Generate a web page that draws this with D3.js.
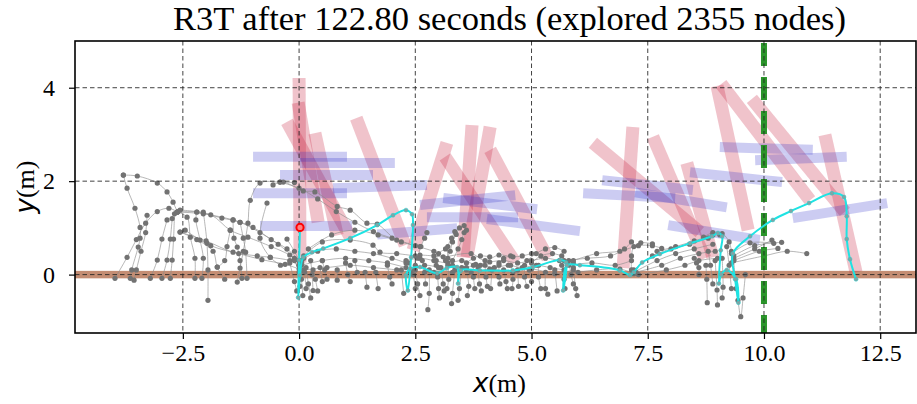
<!DOCTYPE html>
<html><head><meta charset="utf-8">
<script src="https://cdn.jsdelivr.net/npm/d3@7"></script>
<style>body{margin:0;background:#fff}</style></head>
<body>
<svg id="c" width="917" height="404"></svg>
<script>
// ---------- data ----------
const titleText = "R3T after 122.80 seconds (explored 2355 nodes)";
const xTicks = [-2.5, 0, 2.5, 5, 7.5, 10, 12.5];
const xTickLabels = ["\u22122.5", "0.0", "2.5", "5.0", "7.5", "10.0", "12.5"];
const yTicks = [0, 2, 4];
const yTickLabels = ["0", "2", "4"];
const goalX = 10;
const startPoint = [0.02, 1.01];

// leg links [x1,y1,x2,y2]
const redLinks = [
  [0.0, 4.21, 0.02, 0.26], [-0.02, 3.68, 0.41, 1.12], [-0.26, 3.27, 1.10, 0.80],
  [0.34, 3.03, 0.82, 0.84], [1.23, 3.35, 2.28, 0.63],
  [3.18, 2.82, 2.45, 0.52], [3.14, 2.52, 4.65, 0.26], [3.72, 3.20, 3.53, 0.37],
  [4.11, 3.16, 3.61, 0.37], [4.11, 2.67, 5.35, 0.35],
  [6.32, 2.82, 8.62, 0.91], [7.18, 3.16, 6.97, 0.14], [7.61, 2.95, 8.73, 0.35],
  [8.34, 2.39, 8.90, 0.37], [8.99, 4.04, 9.66, 0.95], [9.08, 4.08, 10.99, 1.59],
  [9.74, 3.76, 11.74, 1.34], [11.31, 2.99, 11.98, 0.05]
];
// body links [x1,y1,x2,y2]
const blueLinks = [
  [-0.99, 2.52, 1.03, 2.52], [0.02, 2.39, 2.06, 2.39], [-0.41, 2.13, 1.59, 2.13],
  [-0.99, 1.74, 1.03, 1.74], [0.73, 1.85, 2.75, 1.92], [-0.84, 1.04, 1.14, 1.04],
  [1.68, 0.86, 3.40, 0.99],
  [2.60, 1.49, 4.65, 1.70], [3.10, 1.64, 5.12, 1.40], [2.75, 1.23, 4.71, 1.23],
  [4.04, 1.19, 6.04, 0.93],
  [6.52, 2.02, 8.47, 1.81], [6.11, 1.74, 8.09, 1.64], [7.23, 1.76, 9.20, 1.44],
  [8.41, 2.19, 10.39, 1.98], [9.05, 2.73, 11.05, 2.67], [9.81, 2.45, 11.78, 2.52],
  [10.62, 1.21, 12.65, 1.53], [7.94, 1.06, 9.91, 0.74]
];

// explored tree branches (node positions)
const treeBranches = [
  [[-3.78,2.13],[-3.48,2.11],[-3.05,1.96],[-2.84,1.77],[-2.71,1.55],[-2.62,1.34]],
  [[-3.78,2.13],[-3.7,1.85],[-3.53,1.42],[-3.42,1.01],[-3.42,0.78],[-3.46,0.59],[-3.6,0.1],[-3.63,-0.08]],
  [[-3.96,-0.08],[-3.7,0.37],[-3.5,0.75],[-3.3,1.1],[-3.05,1.35],[-2.8,1.42],[-2.62,1.34]],
  [[-3.27,1.27],[-3.3,0.9],[-3.4,0.5],[-3.5,0.1],[-3.55,-0.12]],
  [[-2.84,1.17],[-2.95,0.76],[-3.05,0.31],[-3.2,-0.08]],
  [[-2.73,1.2],[-2.77,0.76],[-2.84,0.31],[-2.95,-0.08]],
  [[-2.68,1.3],[-2.7,0.76],[-2.73,0.31],[-2.77,-0.08]],
  [[-2.62,1.34],[-2.41,1.23],[-2.34,0.8],[-2.24,0.35],[-2.24,-0.08]],
  [[-2.2,1.34],[-2.22,1.17],[-2.13,0.74],[-2.06,0.35],[-2.09,-0.08]],
  [[-2.06,1.34],[-1.98,0.67],[-1.96,0.1],[-1.96,-0.55]],
  [[-2.56,0.91],[-2.2,0.75],[-1.85,0.5],[-1.76,0.16],[-1.6,-0.1]],
  [[-2.62,1.34],[-2.2,1.34],[-1.66,1.21],[-1.27,1.12],[-0.84,0.9],[-0.45,0.65],[-0.1,0.35],[0.02,0.2]],
  [[-2.62,1.34],[-2.06,1.3],[-1.42,1.17],[-0.99,1.01],[-0.6,0.75],[-0.26,0.55],[0.0,0.3]],
  [[-2.56,1.38],[-1.9,1.28],[-1.48,0.95],[-1.1,0.8],[-0.6,0.6],[-0.2,0.42],[0.05,0.25]],
  [[-2.56,0.91],[-2.0,0.72],[-1.42,0.48],[-0.9,0.4],[-0.62,0.37],[-0.2,0.3],[0.0,0.2]],
  [[-2.45,0.95],[-1.9,0.62],[-1.3,0.45],[-0.8,0.32],[-0.3,0.22],[0.0,0.12]],
  [[-1.33,-0.16],[-1.27,0.14],[-1.2,0.5],[-1.1,1.1],[-1.05,1.59],[-0.84,1.96],[-0.41,1.98],[-0.1,1.97]],
  [[-1.42,1.17],[-1.4,0.78],[-1.33,0.59],[-1.27,0.3],[-1.23,-0.08]],
  [[-1.27,1.12],[-1.2,0.78],[-1.15,0.48],[-1.12,-0.08]],
  [[-0.69,1.53],[-0.84,0.78],[-0.62,0.37],[-0.4,0.2]],
  [[-1.48,0.95],[-1.55,0.6],[-1.6,0.3],[-1.76,0.16]],
  [[-0.26,0.76],[-0.1,0.5],[0.0,0.3]],
  [[-0.56,1.92],[-0.34,1.98],[0.09,1.79],[0.34,1.77],[0.82,1.46],[1.1,1.38],[1.46,1.1],[1.68,1.08],[2.1,0.74],[2.6,0.6]],
  [[-0.41,1.98],[0.0,1.85],[0.4,1.62],[0.8,1.35],[1.2,1.12],[1.6,0.92],[2.0,0.78],[2.5,0.62],[2.9,0.5]],
  [[0.05,0.3],[0.4,0.5],[0.8,0.55],[1.2,0.5],[1.6,0.45],[2.0,0.35],[2.3,0.25]],
  [[0.05,0.2],[0.5,0.3],[1.0,0.35],[1.5,0.3],[1.9,0.25],[2.3,0.15]],
  [[0.1,0.1],[0.6,0.15],[1.1,0.2],[1.6,0.15],[2.1,0.1],[2.4,0.05]],
  [[0.1,0.4],[0.5,0.7],[1.1,0.74],[1.59,0.63],[1.74,0.48],[2.1,0.45],[2.5,0.4]],
  [[0.2,0.55],[0.7,0.85],[1.2,0.95],[1.7,0.85],[2.2,0.7]],
  [[0.0,0.2],[0.05,-0.1],[0.08,-0.45]],
  [[0.15,0.15],[0.2,-0.2],[0.25,-0.5]],
  [[0.3,0.1],[0.35,-0.1],[0.4,-0.35]],
  [[0.45,0.15],[0.5,-0.15]],
  [[0.82,0.1],[0.82,-0.12]],
  [[1.42,0.05],[1.46,-0.27]],
  [[1.65,0.05],[1.7,-0.3]],
  [[2.2,0.1],[2.25,-0.4]],
  [[-0.2,0.25],[-0.1,-0.15],[-0.05,-0.35]],
  [[-0.1,0.3],[0.0,0.05],[0.02,-0.25]],
  [[0.1,0.35],[0.12,0.05],[0.15,-0.3]],
  [[0.25,0.3],[0.28,0.0],[0.3,-0.34]],
  [[0.5,0.3],[0.55,0.1],[0.6,-0.1]],
  [[1.0,0.25],[1.05,0.0],[1.1,-0.15]],
  [[1.2,0.3],[1.25,0.05]],
  [[1.9,0.2],[1.95,-0.05],[2.0,-0.2]],
  [[2.3,0.3],[2.6,0.35],[2.9,0.3],[3.2,0.25],[3.5,0.3],[3.8,0.22],[4.1,0.27],[4.4,0.3],[4.7,0.25],[5.0,0.3],[5.3,0.35],[5.6,0.3],[5.9,0.25]],
  [[2.4,0.1],[2.7,0.2],[3.0,0.15],[3.3,0.05],[3.6,0.15],[3.9,0.2],[4.2,0.15],[4.5,0.2],[4.8,0.15],[5.1,0.2],[5.4,0.15],[5.7,0.1]],
  [[2.5,0.2],[2.9,0.05],[3.3,0.2],[3.7,0.05],[4.1,0.12],[4.6,0.05],[5.0,0.12],[5.5,0.02],[5.9,0.1]],
  [[2.6,0.42],[2.9,0.4],[3.1,0.38],[3.7,0.45],[4.0,0.3],[4.3,0.42],[4.6,0.38],[4.8,0.4],[5.0,0.45]],
  [[2.5,0.1],[2.55,-0.2],[2.6,-0.45]],
  [[2.8,0.1],[2.8,-0.4],[2.77,-0.75]],
  [[3.05,0.15],[3.1,-0.2],[3.12,-0.35]],
  [[3.35,0.1],[3.3,-0.4],[3.28,-0.62]],
  [[3.6,0.1],[3.65,-0.25],[3.62,-0.45]],
  [[3.85,0.15],[3.88,-0.2],[3.92,-0.35]],
  [[4.15,0.1],[4.12,-0.3]],
  [[4.4,0.1],[4.45,-0.15],[4.48,-0.3]],
  [[4.7,0.1],[4.72,-0.25]],
  [[4.95,0.1],[5.0,-0.15]],
  [[5.3,0.05],[5.3,-0.3],[5.35,-0.42]],
  [[5.5,0.1],[5.55,-0.35]],
  [[5.9,0.15],[5.95,-0.3],[5.98,-0.45]],
  [[3.5,0.15],[3.45,-0.3],[3.42,-0.55]],
  [[2.35,0.25],[2.45,0.0],[2.5,-0.3]],
  [[2.65,0.3],[2.7,0.05],[2.72,-0.2]],
  [[2.95,0.2],[2.98,-0.05],[3.0,-0.3],[3.02,-0.5]],
  [[3.2,0.2],[3.22,-0.1],[3.18,-0.3]],
  [[3.75,0.2],[3.75,-0.05],[3.78,-0.3]],
  [[4.0,0.2],[4.02,-0.05],[4.05,-0.25]],
  [[4.3,0.2],[4.3,-0.05],[4.32,-0.2]],
  [[4.55,0.2],[4.6,-0.1],[4.58,-0.3]],
  [[4.85,0.2],[4.85,-0.05],[4.9,-0.25]],
  [[5.15,0.2],[5.15,-0.05],[5.2,-0.3]],
  [[5.65,0.2],[5.7,-0.1],[5.72,-0.3]],
  [[5.8,0.3],[5.85,0.0],[5.9,-0.2]],
  [[3.15,0.3],[3.25,0.5],[3.3,0.7],[3.38,0.86],[3.45,1.0],[3.55,1.05]],
  [[3.3,0.3],[3.42,0.55],[3.5,0.75],[3.55,0.9],[3.6,0.95]],
  [[3.2,0.35],[3.2,0.6],[3.28,0.78],[3.35,0.92]],
  [[2.55,0.35],[2.62,0.6],[2.7,0.78],[2.75,0.9]],
  [[2.95,0.3],[3.0,0.45],[3.15,0.55]],
  [[3.6,0.25],[3.75,0.35],[3.9,0.4],[4.1,0.38]],
  [[4.3,0.25],[4.4,0.35],[4.55,0.4]],
  [[4.9,0.3],[5.1,0.45],[5.3,0.55],[5.5,0.58],[5.7,0.5]],
  [[5.0,0.25],[5.2,0.4],[5.45,0.45],[5.65,0.4]],
  [[5.7,0.3],[6.2,0.35],[6.7,0.4],[7.0,0.55],[7.15,0.7]],
  [[5.8,0.2],[6.3,0.25],[6.8,0.2],[7.15,0.3]],
  [[6.0,0.05],[6.4,0.1],[6.9,0.12],[7.2,0.02]],
  [[5.9,0.3],[6.4,0.45],[6.9,0.5],[7.3,0.62],[7.6,0.62],[7.8,0.56]],
  [[7.2,0.1],[7.6,0.4],[8.0,0.55],[8.4,0.65],[8.8,0.78],[9.05,0.85]],
  [[7.2,0.05],[7.7,0.3],[8.1,0.45],[8.5,0.55],[8.9,0.65]],
  [[7.25,0.05],[7.8,0.2],[8.2,0.35],[8.6,0.45],[8.95,0.5]],
  [[7.3,0.0],[7.9,0.1],[8.3,0.2],[8.6,0.3],[9.0,0.35]],
  [[7.15,0.1],[7.15,0.4],[7.2,0.6],[7.35,0.68],[7.6,0.66]],
  [[8.5,0.35],[8.55,0.25],[8.6,0.15],[8.6,0.0]],
  [[7.7,0.5],[8.1,0.6],[8.5,0.72],[8.9,0.85]],
  [[8.75,0.2],[8.77,-0.1],[8.78,-0.6]],
  [[8.95,0.3],[8.99,-0.33],[9.0,-0.65]],
  [[9.1,0.35],[9.12,-0.27],[9.1,-0.5]],
  [[9.35,0.3],[9.4,-0.3],[9.44,-0.55],[9.5,-0.9],[9.55,-0.5],[9.6,0.0]],
  [[8.8,0.5],[8.85,0.2],[8.9,-0.2]],
  [[9.2,0.6],[9.25,0.2],[9.3,-0.3]],
  [[8.7,0.8],[8.9,0.9],[9.1,0.88],[9.25,0.7],[9.3,0.5]],
  [[9.35,0.35],[9.8,0.55],[10.17,0.74]],
  [[9.35,0.3],[9.9,0.5],[10.3,0.56]],
  [[9.3,0.25],[10.0,0.4],[10.5,0.5],[10.92,0.45]],
  [[9.35,0.4],[9.8,0.62],[10.38,0.69]],
  [[9.3,0.45],[9.7,0.68],[10.21,0.67]]
];

// solution path
const pathPoints = [
  [0.02,1.01],[0.0,0.31],[-0.02,-0.49],[0.02,-0.02],[0.09,0.37],[0.28,0.48],[0.52,0.56],[1.10,0.78],
  [1.68,1.06],[2.02,1.27],[2.30,1.38],[2.43,1.29],[2.45,1.06],[2.41,0.37],[2.34,-0.34],[2.30,-0.02],
  [2.39,0.13],[2.60,0.16],[2.97,0.03],[3.18,0.14],[3.40,0.16],[3.42,-0.19],[3.48,0.09],[3.89,0.09],
  [4.60,0.09],[5.03,0.16],[5.61,0.31],[5.74,0.26],[5.68,-0.34],[5.76,0.20],[6.04,0.20],[6.90,0.09],
  [7.12,-0.01],[7.20,0.05],[7.38,0.26],[7.76,0.44],[8.41,0.67],[8.88,0.82],[9.01,0.89],[9.10,0.82],
  [9.07,0.52],[9.03,-0.19],[9.08,0.0],[9.2,0.1],[9.4,-0.1],[9.45,-0.6],[9.38,-0.1],[9.33,0.45],
  [9.70,0.82],[10.19,1.17],[10.58,1.36],[10.97,1.53],[11.46,1.74],[11.72,1.66],[11.78,1.25],
  [11.78,0.76],[11.85,0.33],[11.98,-0.10]
];

// ---------- drawing ----------
const SERIF = "'Liberation Serif', 'Times New Roman', Times, serif";
const W = 917, H = 404;
const m = {left: 75, right: 916, top: 41, bottom: 333};
const x = d3.scaleLinear().domain([-4.82, 13.27]).range([m.left, m.right]);
const y = d3.scaleLinear().domain([-1.25, 5.0]).range([m.bottom, m.top]);
const svg = d3.select("#c");
svg.append("rect").attr("width", W).attr("height", H).attr("fill", "#fff");
svg.append("defs").append("clipPath").attr("id", "clip")
  .append("rect").attr("x", m.left).attr("y", m.top)
  .attr("width", m.right - m.left).attr("height", m.bottom - m.top);
const g = svg.append("g").attr("clip-path", "url(#clip)");

// ground band
g.append("rect").attr("x", m.left).attr("width", m.right - m.left)
  .attr("y", y(0.08)).attr("height", y(-0.08) - y(0.08))
  .attr("fill", "rgb(165,80,40)").attr("fill-opacity", 0.65);

// red links
g.selectAll("line.red").data(redLinks).join("line").attr("class", "red")
  .attr("x1", d => x(d[0])).attr("y1", d => y(d[1]))
  .attr("x2", d => x(d[2])).attr("y2", d => y(d[3]))
  .attr("stroke", "rgb(200,40,70)").attr("stroke-opacity", 0.28)
  .attr("stroke-width", 13).attr("stroke-linecap", "butt");
// blue links
g.selectAll("line.blue").data(blueLinks).join("line").attr("class", "blue")
  .attr("x1", d => x(d[0])).attr("y1", d => y(d[1]))
  .attr("x2", d => x(d[2])).attr("y2", d => y(d[3]))
  .attr("stroke", "rgb(40,40,200)").attr("stroke-opacity", 0.24)
  .attr("stroke-width", 10).attr("stroke-linecap", "butt");

// tree
const line = d3.line().x(d => x(d[0])).y(d => y(d[1])).curve(d3.curveCatmullRom.alpha(0.5));
g.selectAll("path.tree").data(treeBranches).join("path").attr("class", "tree")
  .attr("d", line).attr("fill", "none").attr("stroke", "#8c8c8c")
  .attr("stroke-width", 0.7).attr("stroke-opacity", 0.9);
g.selectAll("circle.node").data(treeBranches.flat()).join("circle").attr("class", "node")
  .attr("cx", d => x(d[0])).attr("cy", d => y(d[1])).attr("r", 2.6)
  .attr("fill", "#727272");

// goal line
g.append("line").attr("x1", x(goalX)).attr("x2", x(goalX))
  .attr("y1", m.top + 2).attr("y2", m.bottom)
  .attr("stroke", "#2a952a").attr("stroke-width", 6)
  .attr("stroke-dasharray", "23,11");

// grid
const grid = g.append("g");
grid.selectAll("line.gx").data(xTicks).join("line")
  .attr("x1", d => x(d)).attr("x2", d => x(d)).attr("y1", m.top).attr("y2", m.bottom)
  .attr("stroke", "#222").attr("stroke-width", 1).attr("stroke-dasharray", "4.5,3").attr("stroke-opacity", 0.85);
grid.selectAll("line.gy").data(yTicks).join("line")
  .attr("y1", d => y(d)).attr("y2", d => y(d)).attr("x1", m.left).attr("x2", m.right)
  .attr("stroke", "#222").attr("stroke-width", 1).attr("stroke-dasharray", "4.5,3").attr("stroke-opacity", 0.85);

// solution path
g.append("path").datum(pathPoints).attr("d", line).attr("fill", "none")
  .attr("stroke", "#1ee3e3").attr("stroke-width", 2);
g.selectAll("circle.pn").data(pathPoints).join("circle").attr("class", "pn")
  .attr("cx", d => x(d[0])).attr("cy", d => y(d[1])).attr("r", 2)
  .attr("fill", "#7fa6a6").attr("stroke", "#22cccc").attr("stroke-width", 0.5);

// start
g.append("circle").attr("cx", x(startPoint[0])).attr("cy", y(startPoint[1])).attr("r", 3.6)
  .attr("fill", "#ff8080").attr("stroke", "red").attr("stroke-width", 2);

// spines
svg.append("rect").attr("x", m.left).attr("y", m.top)
  .attr("width", m.right - m.left).attr("height", m.bottom - m.top)
  .attr("fill", "none").attr("stroke", "#000").attr("stroke-width", 1.6);

// axes
const xAxis = d3.axisBottom(x).tickValues(xTicks).tickFormat((d, i) => xTickLabels[i])
  .tickSizeInner(6).tickSizeOuter(0).tickPadding(5);
const ax = svg.append("g").attr("transform", `translate(0,${m.bottom})`).call(xAxis)
  .attr("font-family", SERIF).attr("font-size", 24);
ax.select(".domain").remove();
ax.selectAll("line").attr("stroke", "#000").attr("stroke-width", 1.2);
ax.selectAll("text").style("font-family", SERIF).style("font-size", "24px").attr("fill", "#000");

const yAxis = d3.axisLeft(y).tickValues(yTicks).tickFormat((d, i) => yTickLabels[i])
  .tickSizeInner(6).tickSizeOuter(0).tickPadding(14);
const ay = svg.append("g").attr("transform", `translate(${m.left},0)`).call(yAxis)
  .attr("font-family", SERIF).attr("font-size", 24);
ay.select(".domain").remove();
ay.selectAll("line").attr("stroke", "#000").attr("stroke-width", 1.2);
ay.selectAll("text").style("font-family", SERIF).style("font-size", "24px").attr("fill", "#000");

// title
svg.append("text").attr("x", (m.left + m.right) / 2 + 14).attr("y", 30)
  .attr("text-anchor", "middle").style("font-family", SERIF)
  .style("font-size", "34.5px").attr("fill", "#000").text(titleText);

// x label
const xl = svg.append("text").attr("x", (m.left + m.right) / 2 + 4).attr("y", 392)
  .attr("text-anchor", "middle").style("font-size", "26px").attr("fill", "#000");
xl.append("tspan").style("font-family", "'DejaVu Sans'").style("font-style", "italic").text("x");
xl.append("tspan").style("font-family", SERIF).text("(m)");

// y label
const yl = svg.append("text").attr("transform", `translate(34,${(m.top + m.bottom) / 2}) rotate(-90)`)
  .attr("text-anchor", "middle").style("font-size", "26px").attr("fill", "#000");
yl.append("tspan").style("font-family", "'DejaVu Sans'").style("font-style", "italic").text("y");
yl.append("tspan").style("font-family", SERIF).text("(m)");
</script>
</body></html>
